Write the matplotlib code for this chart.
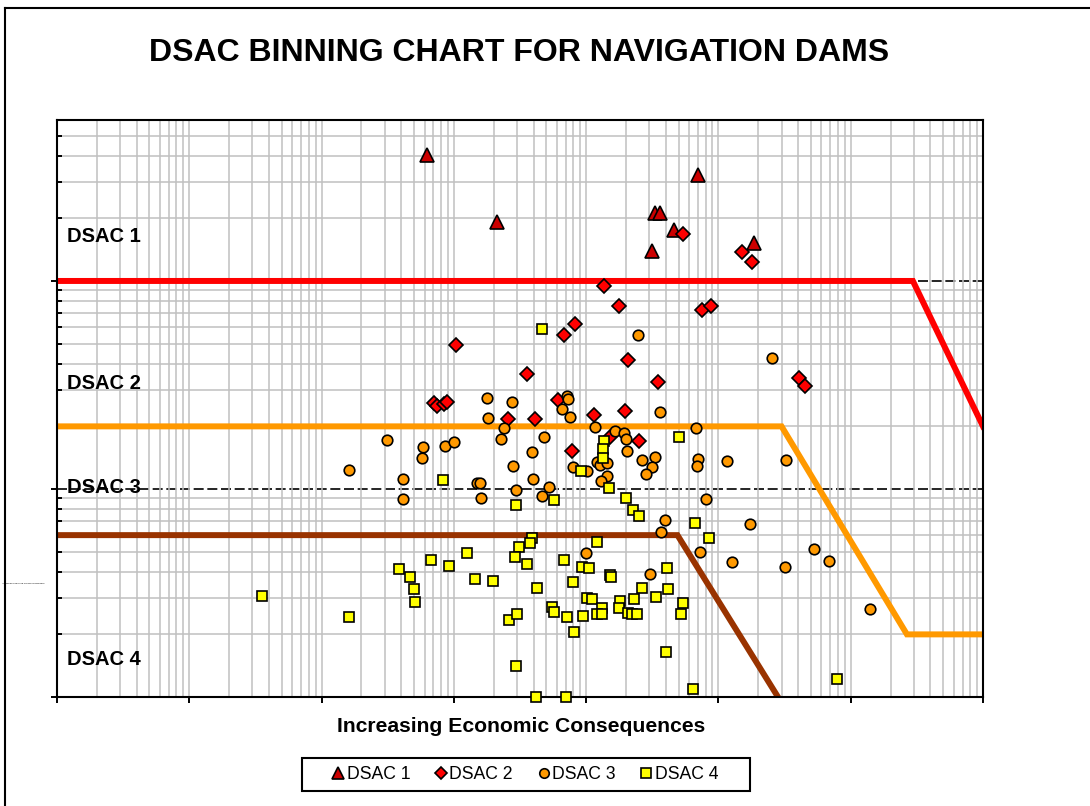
import matplotlib
matplotlib.use("Agg")
import matplotlib.pyplot as plt
import numpy as np
from matplotlib.ticker import LogLocator, NullFormatter
from matplotlib.lines import Line2D
from matplotlib.patches import Rectangle

plt.rcParams['font.family'] = ['Liberation Sans', 'DejaVu Sans']

title = "DSAC BINNING CHART FOR NAVIGATION DAMS"
xlabel = "Increasing Economic Consequences"
ylabel = "Increasing Likelihood of Poor Performance"
series_names = ["DSAC 1", "DSAC 2", "DSAC 3", "DSAC 4"]
zone_labels = ["DSAC 1", "DSAC 2", "DSAC 3", "DSAC 4"]
zone_label_y = [1.64, 0.32, 0.1022, 0.0152]

dsac1_x = [626, 2120, 7.0e4, 3.31e4, 3.61e4, 4.61e4, 3.14e4, 1.85e5]
dsac1_y = [4.04, 1.92, 3.23, 2.12, 2.12, 1.76, 1.39, 1.52]

dsac2_x = [1040, 3570, 6790, 8300, 1.36e4, 1.77e4, 2.07e4, 5.40e4, 3.49e4, 1.51e5,
           1.79e5, 7.50e4, 8.77e4, 4.06e5, 4.51e5, 708, 745, 841, 887, 2560,
           4100, 6120, 7810, 1.15e4, 1.96e4, 1.51e4, 2.51e4]
dsac2_y = [0.492, 0.357, 0.550, 0.621, 0.946, 0.758, 0.417, 1.68, 0.327, 1.38,
           1.23, 0.726, 0.758, 0.342, 0.313, 0.259, 0.251, 0.256, 0.262, 0.217,
           0.217, 0.268, 0.152, 0.227, 0.237, 0.178, 0.170]

dsac3_x = [2.45e4, 2.52e5, 1770, 2760, 1800, 2400, 7130, 7330, 6590, 7540,
           7910, 311, 162, 587, 571, 857, 1000, 2260, 4820, 3870,
           2780, 3940, 415, 415, 1500, 1570, 1600, 2930, 5260, 4660,
           3.61e4, 1.17e4, 1.65e4, 1.94e4, 1.99e4, 6.76e4, 2.02e4, 1.20e4, 1.27e4, 1.45e4,
           2.63e4, 3.31e4, 3.13e4, 2.83e4, 7.03e4, 6.84e4, 1.17e5, 3.27e5, 1.01e4, 1.45e4,
           1.29e4, 8.04e4, 3.94e4, 3.66e4, 1.73e5, 7.24e4, 9950, 1.27e5, 3.20e5, 5.27e5,
           6.88e5, 3.03e4, 1.39e6]
dsac3_y = [0.550, 0.425, 0.275, 0.261, 0.219, 0.197, 0.280, 0.271, 0.242, 0.223,
           0.127, 0.172, 0.123, 0.160, 0.141, 0.161, 0.168, 0.173, 0.177, 0.150,
           0.129, 0.112, 0.112, 0.0892, 0.107, 0.107, 0.0908, 0.0989, 0.102, 0.0925,
           0.235, 0.198, 0.189, 0.185, 0.173, 0.196, 0.152, 0.135, 0.130, 0.134,
           0.138, 0.143, 0.127, 0.118, 0.139, 0.129, 0.137, 0.138, 0.122, 0.115,
           0.109, 0.0895, 0.0710, 0.0623, 0.0679, 0.0500, 0.0494, 0.0447, 0.0423, 0.0515,
           0.0451, 0.0390, 0.0264]

dsac4_x = [4610, 9140, 823, 5740, 2950, 3870, 3760, 3120, 2900, 3550,
           1260, 671, 914, 387, 466, 502, 508, 1440, 1990, 6790,
           8000, 4270, 5480, 5710, 7200, 8130, 2620, 3010, 161, 2960,
           4180, 7030, 35.3, 1.37e4, 1.35e4, 1.35e4, 5.06e4, 1.50e4, 2.00e4, 2.27e4,
           2.52e4, 6.68e4, 8.51e4, 1.21e4, 9250, 1.05e4, 1.51e4, 1.54e4, 4.06e4, 2.63e4,
           4.13e4, 3.35e4, 1.01e4, 1.10e4, 1.80e4, 1.77e4, 2.30e4, 1.31e4, 1.20e4, 1.31e4,
           2.08e4, 2.21e4, 2.41e4, 5.36e4, 5.18e4, 9510, 3.99e4, 6.44e4, 7.91e5]
dsac4_y = [0.586, 0.122, 0.111, 0.0885, 0.0838, 0.0579, 0.0548, 0.0525, 0.0473, 0.0436,
           0.0491, 0.0456, 0.0427, 0.0412, 0.0376, 0.0331, 0.0286, 0.0368, 0.0362, 0.0456,
           0.0358, 0.0333, 0.0272, 0.0257, 0.0243, 0.0206, 0.0234, 0.0251, 0.0243, 0.0141,
           0.0100, 0.0100, 0.0306, 0.170, 0.156, 0.141, 0.177, 0.101, 0.0908, 0.0793,
           0.0742, 0.0684, 0.0583, 0.0554, 0.0420, 0.0416, 0.0386, 0.0378, 0.0418, 0.0333,
           0.0331, 0.0304, 0.0298, 0.0295, 0.0290, 0.0267, 0.0295, 0.0267, 0.0250, 0.0250,
           0.0254, 0.0250, 0.0250, 0.0282, 0.0251, 0.0245, 0.0165, 0.0109, 0.0122]

# boundary lines
red_x = [1, 2.95e6, 1e7]
red_y = [1.0, 1.0, 0.2]
orange_x = [1, 3.0e5, 2.66e6, 1e7]
orange_y = [0.2, 0.2, 0.02, 0.02]
brown_x = [1, 4.9e4, 2.82e5]
brown_y = [0.06, 0.06, 0.01]

W, H = 1090, 806
fig = plt.figure(figsize=(W / 100, H / 100), dpi=100)
L, R, T, B = 57, 983, 120, 697
ax = fig.add_axes([L / W, 1 - B / H, (R - L) / W, (B - T) / H])
ax.set_xscale('log')
ax.set_yscale('log')
ax.set_xlim(1, 1e7)
ax.set_ylim(0.01, 5.94)

ax.xaxis.set_major_locator(LogLocator(base=10, numticks=100))
ax.xaxis.set_minor_locator(LogLocator(base=10, subs=np.arange(2, 10), numticks=100))
ax.yaxis.set_major_locator(LogLocator(base=10, numticks=100))
ax.yaxis.set_minor_locator(LogLocator(base=10, subs=np.arange(2, 10), numticks=100))
ax.xaxis.set_major_formatter(NullFormatter())
ax.xaxis.set_minor_formatter(NullFormatter())
ax.yaxis.set_major_formatter(NullFormatter())
ax.yaxis.set_minor_formatter(NullFormatter())

ax.set_axisbelow(True)
ax.grid(which='both', axis='x', color='#C0C0C0', lw=1.1)
ax.grid(which='minor', axis='y', color='#C0C0C0', lw=1.1)
for yv in [1.0, 0.1]:
    ax.axhline(yv, color='black', lw=1.2, ls=(0, (6, 2.2)), zorder=0.4)

ax.tick_params(axis='x', which='major', direction='out', length=4.5, width=1.4, bottom=True, top=False)
ax.tick_params(axis='x', which='minor', length=0)
ax.tick_params(axis='y', which='major', direction='out', length=4.5, width=1.4, left=True, right=False)
ax.tick_params(axis='y', which='minor', direction='in', length=3.5, width=1.4, left=True, right=False)
for s in ax.spines.values():
    s.set_linewidth(1.5)
    s.set_color('black')

ax.plot(red_x, red_y, color='#FF0000', lw=4.3, solid_joinstyle='miter', zorder=2)
ax.plot(orange_x, orange_y, color='#FF9900', lw=4.3, solid_joinstyle='miter', zorder=2)
ax.plot(brown_x, brown_y, color='#993300', lw=4.3, solid_joinstyle='miter', zorder=2)

mk = dict(ls='none', mec='black', mew=1.2, clip_on=False, zorder=3)
ax.plot(dsac1_x, dsac1_y, marker='^', ms=10.0, mfc='#CC0000', label=series_names[0], **mk)
ax.plot(dsac2_x, dsac2_y, marker='D', ms=7.0, mfc='#FF0000', label=series_names[1], **mk)
ax.plot(dsac3_x, dsac3_y, marker='o', ms=7.6, mfc='#FF9900', label=series_names[2], **mk)
ax.plot(dsac4_x, dsac4_y, marker='s', ms=7.4, mfc='#FFFF00', label=series_names[3], **mk)

for lab, yv in zip(zone_labels, zone_label_y):
    ax.text(1.19, yv, lab, fontsize=14.5, fontweight='bold', ha='left', va='center', zorder=4)

fig.text(519.5 / W, 1 - 53 / H, title, fontsize=23, fontweight='bold', ha='center', va='center')
fig.text(521.5 / W, 1 - 727 / H, xlabel, fontsize=15.2, fontweight='bold', ha='center', va='center')
fig.text(1.5 / W, 1 - 583 / H, ylabel, fontsize=1.6, ha='left', va='center')

# legend
handles, labels = ax.get_legend_handles_labels()
leg = fig.legend(handles, labels, loc='center', bbox_to_anchor=(526 / W, 1 - 774.5 / H),
                 ncol=4, frameon=False, fontsize=12.7, handlelength=0.5, handletextpad=0.22,
                 columnspacing=1.5, markerscale=0.9, borderpad=0.2)
fig.patches.append(Rectangle((302 / W, 1 - 791 / H), 448 / W, 33 / H, transform=fig.transFigure,
                             fill=False, edgecolor='black', lw=1.5))

# outer border (top and left)
fig.lines.append(Line2D([5 / W, 1.0], [1 - 8 / H, 1 - 8 / H], transform=fig.transFigure, color='black', lw=1.5))
fig.lines.append(Line2D([5 / W, 5 / W], [0, 1 - 8 / H], transform=fig.transFigure, color='black', lw=1.5))

fig.savefig('out.png', dpi=100)
